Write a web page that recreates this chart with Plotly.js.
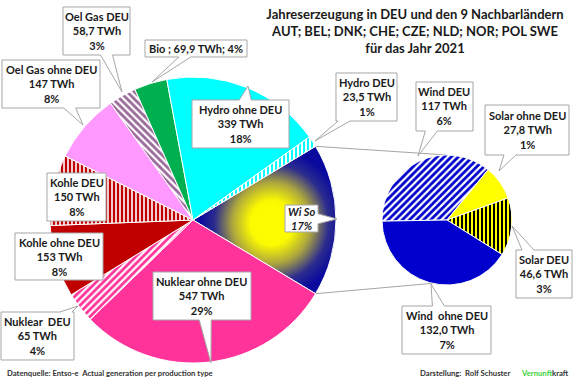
<!DOCTYPE html>
<html><head><meta charset="utf-8">
<script src="https://cdn.plot.ly/plotly-3.0.1.min.js"></script>
<style>html,body{margin:0;padding:0;background:#fff;}#chart{width:580px;height:385px;}</style>
</head><body><div id="chart"></div>
<script>
// ---- data ----
const mainLabels = ['Wi So','Nuklear ohne DEU','Nuklear DEU','Kohle ohne DEU','Kohle DEU','Oel Gas ohne DEU','Oel Gas DEU','Bio','Hydro ohne DEU','Hydro DEU'];
const mainValues = [323.4, 547, 65, 153, 150, 147, 58.7, 69.9, 339, 23.5];
const mainValueText = ['', '547 TWh', '65 TWh', '153 TWh', '150 TWh', '147 TWh', '58,7 TWh', '69,9 TWh', '339 TWh', '23,5 TWh'];
const mainPctText = ['17%', '29%', '4%', '8%', '8%', '8%', '3%', '4%', '18%', '1%'];
const subLabels = ['Wind DEU','Solar ohne DEU','Solar DEU','Wind ohne DEU'];
const subValues = [117, 27.8, 46.6, 132.0];
const subValueText = ['117 TWh', '27,8 TWh', '46,6 TWh', '132,0 TWh'];
const subPctText = ['6%', '1%', '3%', '7%'];
const titleLines = ['Jahreserzeugung in DEU und den 9 Nachbarländern','AUT; BEL; DNK; CHE; CZE; NLD; NOR; POL SWE','für das Jahr 2021'];

// ---- styles ----
const W = 580, H = 385;
const px = x => x / W, py = y => 1 - y / H;
const FONT = 'Lato, "Open Sans", sans-serif';
const mainColors = ['#0A0A9A','#FF3399','#FF3399','#C00000','#C00000','#FF99FF','#FFFFFF','#00B050','#00FFFF','#00FFFF'];
const mainPat = {
  shape:   ['', '', '/', '', '|', '', '\\', '', '', '|'],
  bgcolor: ['#0A0A9A','#FF3399','#FF3399','#C00000','#FFFFFF','#FF99FF','#FFFFFF','#00B050','#00FFFF','#00FFFF'],
  fgcolor: ['#0A0A9A','#FF3399','#FFFFFF','#C00000','#C00000','#FF99FF','#9A6A9A','#00B050','#00FFFF','#FFFFFF'],
  size:    [8,8,5,8,4,8,5,8,8,4],
  solidity:[0.3,0.3,0.45,0.3,0.6,0.3,0.55,0.3,0.3,0.5],
  fillmode:'replace'
};
const subColors = ['#FFFFFF','#FFFF00','#FFFF00','#0000CC'];
const subPat = {
  shape:   ['/', '', '|', ''],
  bgcolor: ['#FFFFFF','#FFFF00','#FFFF00','#0000CC'],
  fgcolor: ['#0000CC','#FFFF00','#000000','#0000CC'],
  size:    [5,8,4,8],
  solidity:[0.55,0.3,0.5,0.3],
  fillmode:'replace'
};

// pie geometry (pixels)
const mainC = [193, 220], mainR = 143;
const subC = [447, 220], subR = 65;

const total = mainValues.reduce((a,b)=>a+b,0);
const wisoAngle = mainValues[0] / total * 360;
const mainRot = 90 - wisoAngle / 2;
const subRot = -91;

// callout boxes (pixels): box [x0,y0,x1,y1], tip
const callouts = {
  'Oel Gas DEU':      {box:[63,7,130,55],    tip:[122,92]},
  'Bio':              {box:[145,40,247,57],  tip:[152,82]},
  'Oel Gas ohne DEU': {box:[2,60,100,108],   tip:[83,125]},
  'Hydro ohne DEU':   {box:[192,100,289,148],tip:[248,86]},
  'Hydro DEU':        {box:[336,73,397,121], tip:[315,141]},
  'Wind DEU':         {box:[416,82,473,131], tip:[418,156]},
  'Solar ohne DEU':   {box:[485,105,569,155],tip:[499,171]},
  'Wi So':            {box:[285,205,318,232],tip:[337,219]},
  'Kohle DEU':        {box:[47,173,106,221]},
  'Kohle ohne DEU':   {box:[15,233,103,280]},
  'Nuklear DEU':      {box:[1,312,74,360],   tip:[78,306]},
  'Nuklear ohne DEU': {box:[153,272,251,320],tip:[211,363]},
  'Solar DEU':        {box:[516,250,572,298],tip:[512,226]},
  'Wind ohne DEU':    {box:[402,306,491,354],tip:[431,284]}
};

function calloutPts(b, tip, hw) {
  const [x0,y0,x1,y1] = b;
  if (!tip) return [[x0,y0],[x1,y0],[x1,y1],[x0,y1]];
  const cx=(x0+x1)/2, cy=(y0+y1)/2, dx=tip[0]-cx, dy=tip[1]-cy;
  const tx = dx!==0 ? ((x1-x0)/2)/Math.abs(dx) : Infinity;
  const ty = dy!==0 ? ((y1-y0)/2)/Math.abs(dy) : Infinity;
  const cl=(v,a,c)=>Math.max(a,Math.min(c,v));
  if (ty < tx) {
    const ex = cl(cx+dx*ty, x0+hw+2, x1-hw-2);
    if (dy<0) return [[x0,y0],[ex-hw,y0],tip,[ex+hw,y0],[x1,y0],[x1,y1],[x0,y1]];
    return [[x0,y0],[x1,y0],[x1,y1],[ex+hw,y1],tip,[ex-hw,y1],[x0,y1]];
  } else {
    const ey = cl(cy+dy*tx, y0+hw+2, y1-hw-2);
    if (dx>0) return [[x0,y0],[x1,y0],[x1,ey-hw],tip,[x1,ey+hw],[x1,y1],[x0,y1]];
    return [[x0,y0],[x1,y0],[x1,y1],[x0,y1],[x0,ey+hw],tip,[x0,ey-hw]];
  }
}
const toPath = pts => 'M' + pts.map(p => px(p[0]).toFixed(5)+','+py(p[1]).toFixed(5)).join('L') + 'Z';

function labelText(lbl, val, pct) {
  if (lbl === 'Bio') return lbl + ' ; ' + val + '; ' + pct;
  if (lbl === 'Wi So') return '<i>' + lbl + '<br>' + pct + '</i>';
  let name = lbl;
  if (lbl === 'Nuklear DEU') name = 'Nuklear&nbsp; DEU';
  if (lbl === 'Wind ohne DEU') name = 'Wind&nbsp; ohne DEU';
  return name + '<br>' + val + '<br>' + pct;
}

const shapes = [], annotations = [];
function addLabels(labels, vals, pcts) {
  labels.forEach((lbl, i) => {
    const c = callouts[lbl]; if (!c) return;
    const b = c.box;
    shapes.push({type:'path', xref:'paper', yref:'paper', layer:'above',
      path: toPath(calloutPts(b, c.tip, lbl==='Wi So'?5:6)),
      fillcolor:'#FFFFFF', line:{color:'#A6A6A6', width:1}});
    annotations.push({xref:'paper', yref:'paper', x:px((b[0]+b[2])/2), y:py((b[1]+b[3])/2),
      xanchor:'center', yanchor:'middle', showarrow:false,
      text: labelText(lbl, vals[i], pcts[i]),
      font:{family:FONT, size:11, color:'#1A1A1A', weight:700}});
  });
}
addLabels(mainLabels, mainValueText, mainPctText);
addLabels(subLabels, subValueText, subPctText);

// connector lines between pies
const rad = d => d*Math.PI/180;
const a1 = rad(mainRot), a2 = rad(mainRot + wisoAngle);
const m1 = [mainC[0]+mainR*Math.sin(a1), mainC[1]-mainR*Math.cos(a1)];
const m2 = [mainC[0]+mainR*Math.sin(a2), mainC[1]-mainR*Math.cos(a2)];
const s1 = [subC[0]+subR*Math.sin(rad(0)), subC[1]-subR*Math.cos(rad(0))];
const s2 = [subC[0]+subR*Math.sin(rad(193)), subC[1]-subR*Math.cos(rad(193))];
[[m1,s1],[m2,s2]].forEach(([p,q]) => shapes.unshift({type:'line', xref:'paper', yref:'paper', layer:'below',
  x0:px(p[0]), y0:py(p[1]), x1:px(q[0]), y1:py(q[1]), line:{color:'#A6A6A6', width:1}}));

// footer
annotations.push({xref:'paper', yref:'paper', x:px(5), y:py(373), xanchor:'left', yanchor:'middle', showarrow:false,
  text:'Datenquelle: Entso-e&nbsp; Actual generation per production type', font:{family:FONT, size:7.7, color:'#333333', weight:700}});
annotations.push({xref:'paper', yref:'paper', x:px(418), y:py(373), xanchor:'left', yanchor:'middle', showarrow:false,
  text:'Darstellung:&nbsp; Rolf Schuster', font:{family:FONT, size:7.7, color:'#333333', weight:700}});
annotations.push({xref:'paper', yref:'paper', x:px(519), y:py(373), xanchor:'left', yanchor:'middle', showarrow:false,
  text:'<span style="color:#3CD23C">Vernunft</span>kraft', font:{family:FONT, size:7.7, color:'#333333', weight:700}});

const traces = [
  {type:'pie', values:mainValues, labels:mainLabels, sort:false, direction:'clockwise', rotation:mainRot,
   textinfo:'none', hoverinfo:'none', showlegend:false,
   domain:{x:[px(mainC[0]-mainR), px(mainC[0]+mainR)], y:[py(mainC[1]+mainR), py(mainC[1]-mainR)]},
   marker:{colors:mainColors, line:{color:'#FFFFFF', width:1}, pattern:mainPat}},
  {type:'pie', values:subValues, labels:subLabels, sort:false, direction:'clockwise', rotation:subRot,
   textinfo:'none', hoverinfo:'none', showlegend:false,
   domain:{x:[px(subC[0]-subR), px(subC[0]+subR)], y:[py(subC[1]+subR), py(subC[1]-subR)]},
   marker:{colors:subColors, line:{color:'#FFFFFF', width:1}, pattern:subPat}}
];

const layout = {
  width:W, height:H, margin:{l:0,r:0,t:0,b:0},
  paper_bgcolor:'#FFFFFF', plot_bgcolor:'#FFFFFF', showlegend:false,
  title:{text:titleLines.join('<br>'), x:px(415), xanchor:'center', xref:'container',
         y:1-19/H, yanchor:'top', yref:'container',
         font:{family:FONT, size:13, color:'#1A1A1A', weight:700}},
  shapes:shapes, annotations:annotations
};

Plotly.newPlot('chart', traces, layout, {displayModeBar:false, staticPlot:true}).then(gd => {
  const svgNS = 'http://www.w3.org/2000/svg';
  const defs = gd.querySelector('.main-svg defs');
  const g = document.createElementNS(svgNS, 'radialGradient');
  g.setAttribute('id', 'wisoGrad');
  g.setAttribute('cx', '0.55'); g.setAttribute('cy', '0.52'); g.setAttribute('r', '0.5');
  [['0','#FFFF00'],['0.3','#FCFA00'],['0.55','#ACA63E'],['0.8','#2C2C8E'],['1','#0A0A9E']].forEach(([o,c]) => {
    const s = document.createElementNS(svgNS, 'stop');
    s.setAttribute('offset', o); s.setAttribute('stop-color', c); g.appendChild(s);
  });
  defs.appendChild(g);
  const tr = gd.querySelectorAll('.pielayer .trace')[0];
  const surf = tr.querySelectorAll('path.surface')[0];
  if (surf) surf.style.fill = 'url(#wisoGrad)';
});
</script>
</body></html>
